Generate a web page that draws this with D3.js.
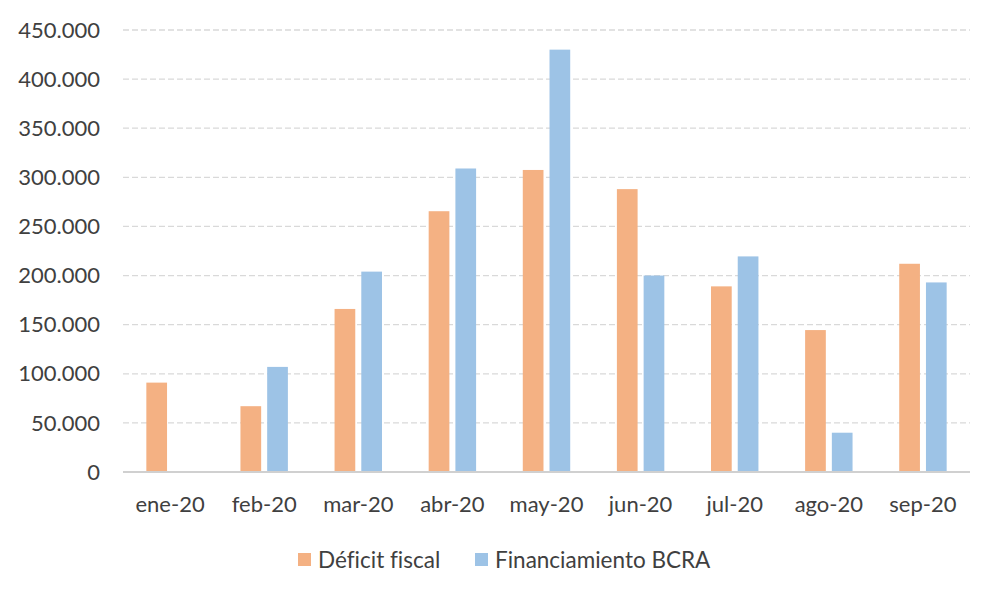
<!DOCTYPE html>
<html>
<head>
<meta charset="utf-8">
<script src="https://cdn.jsdelivr.net/npm/d3@7"></script>
<style>
  body { margin: 0; background: #ffffff; }
  svg { display: block; }
  text { font-variant-ligatures: none; }
</style>
</head>
<body>
<div id="chart-div"></div>
<script>
// Data (millones de pesos)
const months = ['ene-20', 'feb-20', 'mar-20', 'abr-20', 'may-20', 'jun-20', 'jul-20', 'ago-20', 'sep-20'];
const deficitFiscal = [91000, 67000, 166000, 265500, 307500, 288000, 189000, 144500, 212000];
const financiamientoBCRA = [0, 107000, 204000, 309000, 430000, 200000, 219500, 40000, 193000];
const yTicks = [0, 50000, 100000, 150000, 200000, 250000, 300000, 350000, 400000, 450000];
const seriesNames = ['Déficit fiscal', 'Financiamiento BCRA'];

const width = 1000;
const height = 600;
const margin = { top: 30, right: 30, bottom: 128, left: 123 };

const colors = ['#F4B183', '#9DC3E6'];
const textColor = '#404040';
const fontFamily = 'Lato, "Open Sans", sans-serif';

const svg = d3.select('#chart-div')
  .append('svg')
  .attr('width', width)
  .attr('height', height);

const x = d3.scaleBand()
  .domain(months)
  .range([margin.left, width - margin.right])
  .paddingInner(0)
  .paddingOuter(0);

// two bars per month with a small gap between them
const barWidth = x.bandwidth() * 0.22;
const barGap = x.bandwidth() * 0.064;
const xSeries = d3.scaleOrdinal()
  .domain([0, 1])
  .range([-barGap / 2 - barWidth, barGap / 2]);

const y = d3.scaleLinear()
  .domain([0, 450000])
  .range([height - margin.bottom, margin.top]);

// number format with dot as thousands separator
const fmt = d3.formatLocale({ decimal: ',', thousands: '.', grouping: [3], currency: ['$', ''] }).format(',.0f');

// dashed gridlines
svg.append('g')
  .selectAll('line')
  .data(yTicks.filter(d => d > 0))
  .join('line')
  .attr('x1', margin.left)
  .attr('x2', width - margin.right)
  .attr('y1', d => y(d))
  .attr('y2', d => y(d))
  .attr('stroke', '#d9d9d9')
  .attr('stroke-width', 1.3)
  .attr('stroke-dasharray', '6,3');

// y tick labels
svg.append('g')
  .selectAll('text')
  .data(yTicks)
  .join('text')
  .attr('x', 100)
  .attr('y', d => y(d))
  .attr('dy', '0.35em')
  .attr('text-anchor', 'end')
  .style('font-family', fontFamily)
  .style('font-size', '22px')
  .style('fill', textColor)
  .text(d => fmt(d));

// bars
const seriesData = [deficitFiscal, financiamientoBCRA];
seriesData.forEach((values, s) => {
  svg.append('g')
    .selectAll('rect')
    .data(values.map((v, i) => ({ month: months[i], value: v })))
    .join('rect')
    .attr('x', d => x(d.month) + x.bandwidth() / 2 + xSeries(s))
    .attr('y', d => y(d.value))
    .attr('width', barWidth)
    .attr('height', d => y(0) - y(d.value))
    .attr('fill', colors[s]);
});

// baseline axis
svg.append('line')
  .attr('x1', margin.left)
  .attr('x2', width - margin.right)
  .attr('y1', y(0))
  .attr('y2', y(0))
  .attr('stroke', '#d0d0d0')
  .attr('stroke-width', 2);

// x labels
svg.append('g')
  .selectAll('text')
  .data(months)
  .join('text')
  .attr('x', d => x(d) + x.bandwidth() / 2)
  .attr('y', 512)
  .attr('text-anchor', 'middle')
  .style('font-family', fontFamily)
  .style('font-size', '22px')
  .style('fill', textColor)
  .text(d => d);

// legend
const legendX = [298, 475];
const legend = svg.append('g')
  .selectAll('g')
  .data(seriesNames)
  .join('g')
  .attr('transform', (d, i) => `translate(${legendX[i]},560)`);

legend.append('rect')
  .attr('x', 0)
  .attr('y', -7)
  .attr('width', 13)
  .attr('height', 13)
  .attr('fill', (d, i) => colors[i]);

legend.append('text')
  .attr('x', 20)
  .attr('y', 0)
  .attr('dy', '0.35em')
  .style('font-family', fontFamily)
  .style('font-size', '22.5px')
  .style('fill', textColor)
  .text(d => d);
</script>
</body>
</html>
